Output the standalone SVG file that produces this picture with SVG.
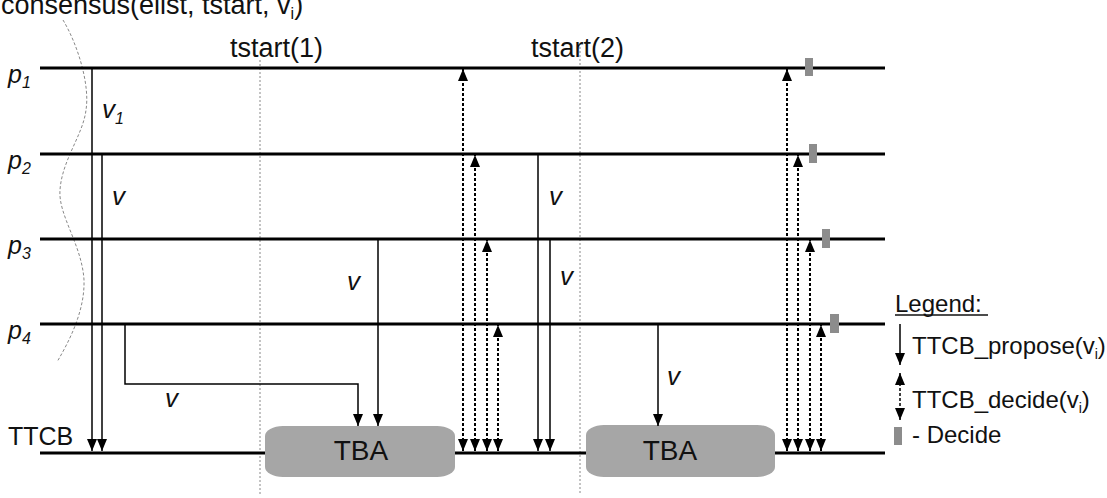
<svg xmlns="http://www.w3.org/2000/svg" width="1107" height="498" viewBox="0 0 1107 498">
<style>
text{font-family:"Liberation Sans",Arial,sans-serif;fill:#111}
.pl{stroke:#000;stroke-width:3;fill:none}
.ar{stroke:#000;stroke-width:1.5;fill:none;marker-end:url(#ah)}
.dd{stroke:#000;stroke-width:2;stroke-dasharray:3,2;fill:none;marker-start:url(#ah);marker-end:url(#ah)}
.ts{stroke:#888;stroke-width:1;stroke-dasharray:2,2;fill:none}
.tba{fill:#a6a6a6}
.dec{fill:#8c8c8c}
.lab{font-size:26px;font-style:italic}
.pn{font-size:25px;font-style:italic}
</style>
<defs>
<marker id="ah" viewBox="0 0 12 10" markerWidth="12" markerHeight="10" refX="12" refY="5" orient="auto-start-reverse" markerUnits="userSpaceOnUse">
<path d="M0,0 L12,5 L0,10 z" fill="#000"/>
</marker>
</defs>
<rect width="1107" height="498" fill="#fff"/>

<!-- title & time markers -->
<text x="1" y="14" font-size="27">consensus(elist, tstart, v<tspan font-size="16" dy="5">i</tspan><tspan dy="-5">)</tspan></text>
<path d="M63,20 C78,45 90,85 86,110 C83,135 62,160 60,190 C58,215 82,245 84,280 C85,310 70,340 57,362" stroke="#888" stroke-width="1" stroke-dasharray="3,2" fill="none"/>
<line class="ts" x1="260" y1="60" x2="260" y2="495"/>
<line class="ts" x1="580" y1="47" x2="580" y2="495"/>
<text x="230" y="57" font-size="27">tstart(1)</text>
<text x="531" y="57" font-size="27">tstart(2)</text>

<!-- process lines -->
<g id="p1"><line class="pl" x1="40" y1="68" x2="885" y2="68"/><text class="pn" x="8" y="83">p<tspan font-size="16" dy="5">1</tspan></text></g>
<g id="p2"><line class="pl" x1="40" y1="154" x2="885" y2="154"/><text class="pn" x="8" y="169">p<tspan font-size="16" dy="5">2</tspan></text></g>
<g id="p3"><line class="pl" x1="40" y1="239" x2="885" y2="239"/><text class="pn" x="8" y="254">p<tspan font-size="16" dy="5">3</tspan></text></g>
<g id="p4"><line class="pl" x1="40" y1="324" x2="885" y2="324"/><text class="pn" x="8" y="339">p<tspan font-size="16" dy="5">4</tspan></text></g>
<g id="ttcb">
<line class="pl" x1="40" y1="453" x2="266" y2="453"/>
<line class="pl" x1="454" y1="453" x2="587" y2="453"/>
<line class="pl" x1="774" y1="453" x2="885" y2="453"/>
<text x="8" y="445" font-size="25">TTCB</text>
</g>
<g id="tba1"><rect class="tba" x="265" y="426" width="190" height="51" rx="18" ry="10"/><text x="361" y="460" font-size="28" text-anchor="middle">TBA</text></g>
<g id="tba2"><rect class="tba" x="586" y="425" width="189" height="52" rx="18" ry="10"/><text x="670" y="460" font-size="28" text-anchor="middle">TBA</text></g>

<!-- decide marks -->
<g id="decides">
<rect class="dec" x="805" y="58" width="8" height="18"/>
<rect class="dec" x="809" y="144" width="8" height="19"/>
<rect class="dec" x="822" y="229" width="8" height="19"/>
<rect class="dec" x="830" y="314" width="9" height="19"/>
</g>

<!-- connectors -->
<g id="connectors">
<line class="ar" x1="92" y1="68" x2="92" y2="451"/>
<line class="ar" x1="102" y1="154" x2="102" y2="451"/>
<polyline class="ar" points="125,324 125,384 358,384 358,426"/>
<line class="ar" x1="378" y1="239" x2="378" y2="426"/>
<line class="dd" x1="463" y1="451" x2="463" y2="69"/>
<line class="dd" x1="475" y1="451" x2="475" y2="155"/>
<line class="dd" x1="487" y1="451" x2="487" y2="240"/>
<line class="dd" x1="498" y1="451" x2="498" y2="325"/>
<line class="ar" x1="538" y1="154" x2="538" y2="451"/>
<line class="ar" x1="550" y1="239" x2="550" y2="451"/>
<line class="ar" x1="658" y1="324" x2="658" y2="426"/>
<line class="dd" x1="787" y1="451" x2="787" y2="69"/>
<line class="dd" x1="798" y1="451" x2="798" y2="155"/>
<line class="dd" x1="810" y1="451" x2="810" y2="240"/>
<line class="dd" x1="821" y1="451" x2="821" y2="325"/>
</g>

<!-- value labels -->
<text class="lab" x="102" y="118" font-size="24">v<tspan font-size="16" dy="6">1</tspan></text>
<text class="lab" x="112" y="205">v</text>
<text class="lab" x="347" y="290">v</text>
<text class="lab" x="165" y="407">v</text>
<text class="lab" x="549" y="205">v</text>
<text class="lab" x="560" y="285">v</text>
<text class="lab" x="667" y="385">v</text>

<!-- legend -->
<g id="legend">
<text x="895" y="312" font-size="24">Legend:</text>
<line x1="895" y1="315" x2="988" y2="315" stroke="#111" stroke-width="1.5"/>
<line class="ar" x1="900" y1="324" x2="900" y2="365"/>
<text x="912" y="354" font-size="24">TTCB_propose(v<tspan font-size="14" dy="5">i</tspan><tspan dy="-5">)</tspan></text>
<line class="dd" x1="900" y1="373" x2="900" y2="420" style="stroke-width:1.5"/>
<text x="912" y="408" font-size="24">TTCB_decide(v<tspan font-size="14" dy="5">i</tspan><tspan dy="-5">)</tspan></text>
<rect class="dec" x="894" y="427" width="8" height="18"/>
<text x="912" y="443" font-size="24">- Decide</text>
</g>
</svg>
